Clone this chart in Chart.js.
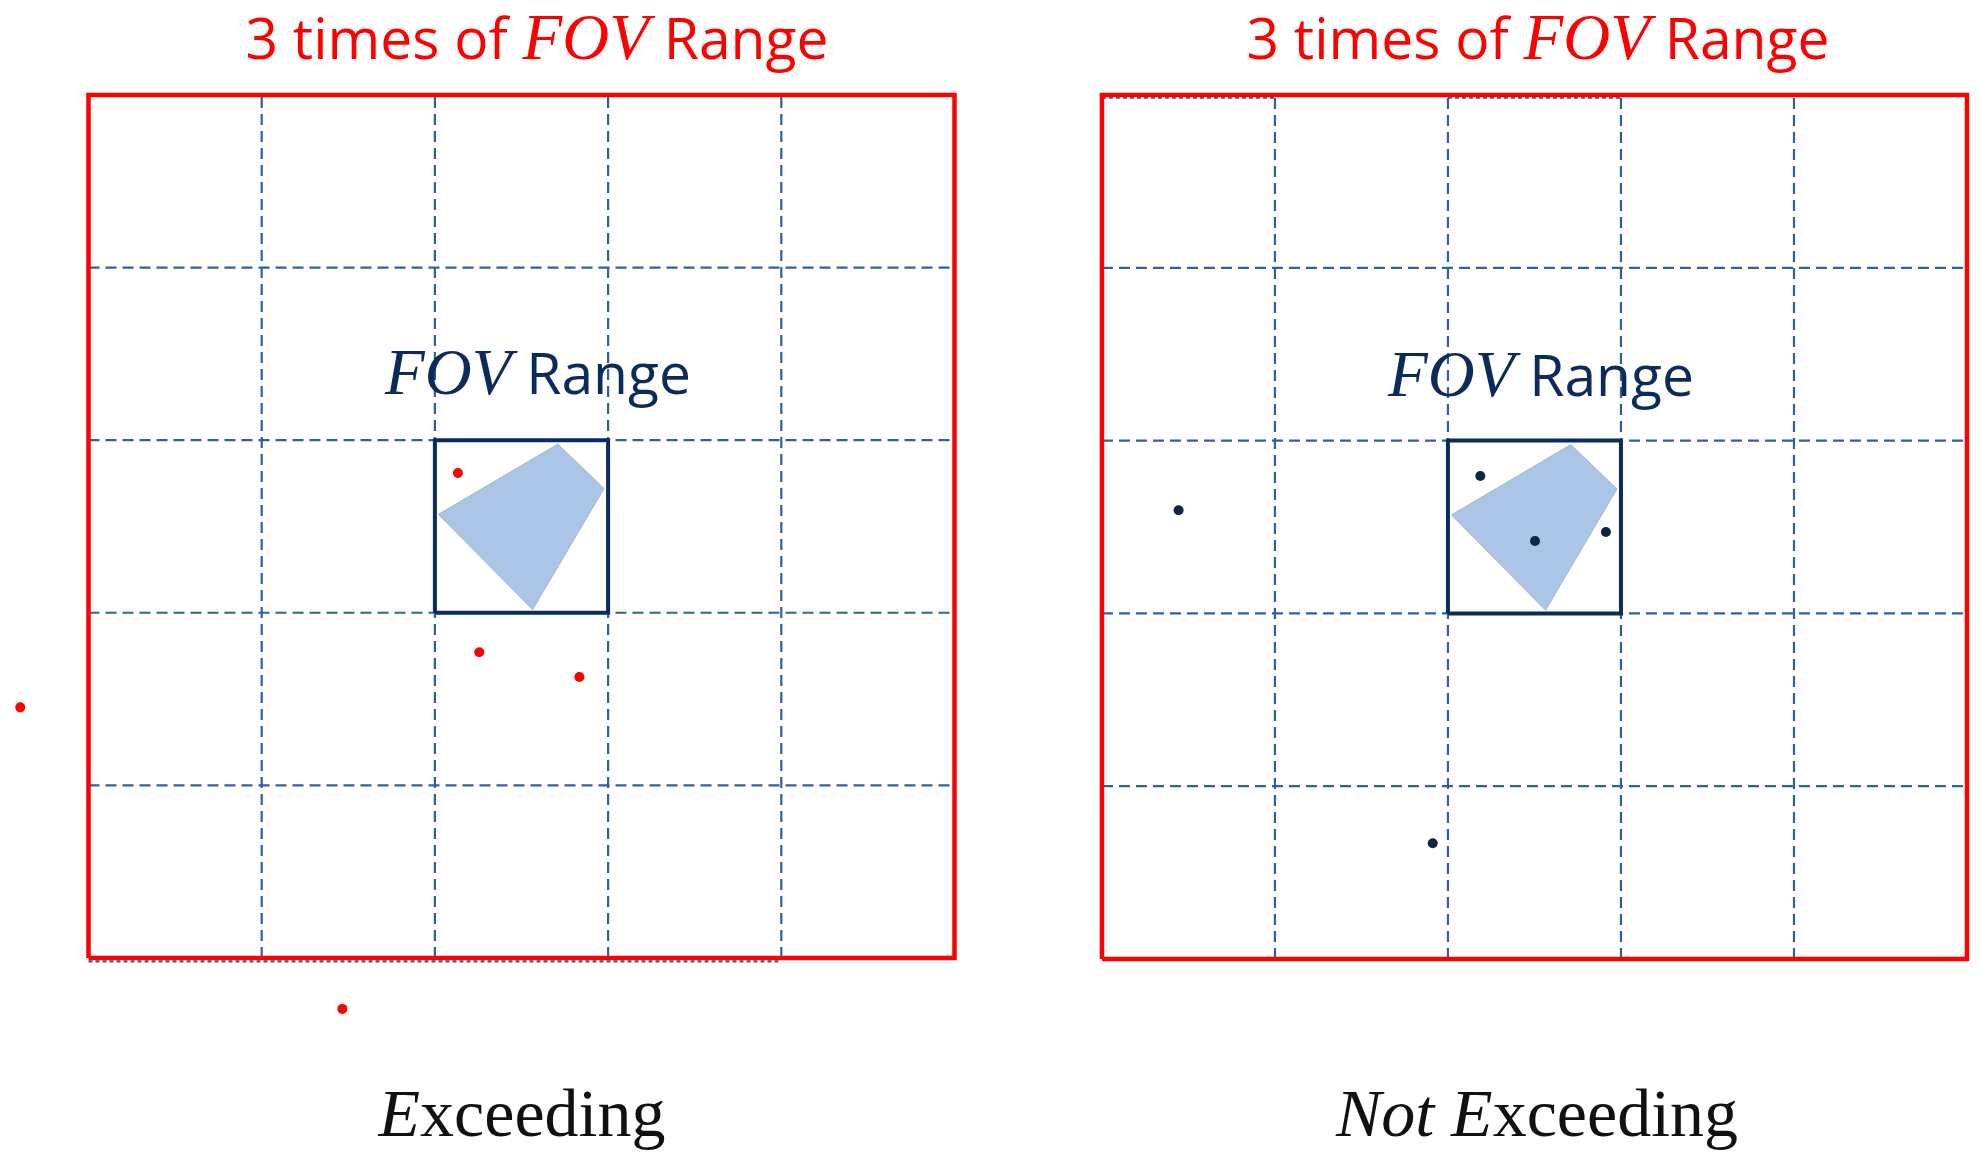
<!DOCTYPE html>
<html>
<head>
<meta charset="utf-8">
<title>FOV Range</title>
<script src="https://cdn.jsdelivr.net/npm/chart.js@4.4.1/dist/chart.umd.min.js"></script>
<style>
  html, body { margin: 0; padding: 0; background: #ffffff; overflow: hidden; }
  #page { position: relative; width: 1981px; height: 1162px; }
  canvas { position: absolute; top: 0; }
  #chart_exceeding { left: 0; }
  #chart_not_exceeding { left: 990px; }
  .label { position: absolute; width: 800px; text-align: center; white-space: nowrap; line-height: 1; }
  .sans { font-family: "Open Sans", sans-serif; font-size: 57px; }
  .title { color: #ff0000; }
  .fov { color: #0c2a5a; }
  .math { font-family: "Liberation Serif", serif; font-style: italic; font-size: 65px; }
  .caption { font-family: "Liberation Serif", serif; font-size: 68px; color: #111111; }
  .caption i { font-style: italic; }
</style>
</head>
<body>
<div id="page">
  <canvas id="chart_exceeding" width="990" height="1162"></canvas>
  <canvas id="chart_not_exceeding" width="991" height="1162"></canvas>

  <div class="label sans title" style="left:137px; top:5px;">3 times of <i class="math">FOV</i> Range</div>
  <div class="label sans title" style="left:1138px; top:5px;">3 times of <i class="math">FOV</i> Range</div>

  <div class="label sans fov" style="left:138px; top:340px;"><i class="math">FOV</i> Range</div>
  <div class="label sans fov" style="left:1141px; top:342px;"><i class="math">FOV</i> Range</div>

  <div class="label caption" style="left:122px; top:1079px;"><i>E</i>xceeding</div>
  <div class="label caption" style="left:1137px; top:1079px;"><i>Not E</i>xceeding</div>
</div>

<script>
// all values are in FOV units, the FOV cell is centred on 0,0
const outerRange = [-2.5, 2.5];   // 3 times of FOV range (5 x 5 cells)
const fovRange = [-0.5, 0.5];     // FOV cell
const gridPos = [-1.5, -0.5, 0.5, 1.5];

// footprint of the image inside the FOV cell
const footprint = [
    {x: -0.48, y: 0.07},
    {x: 0.21, y: 0.477},
    {x: 0.477, y: 0.22},
    {x: 0.064, y: -0.482}
];

// points of the "Exceeding" case
const exceedingPoints = [
    {x: -0.367, y: 0.31},
    {x: -0.244, y: -0.729},
    {x: 0.334, y: -0.872},
    {x: -2.894, y: -1.048},
    {x: -1.034, y: -2.795}
];

// points of the "Not Exceeding" case
const notExceedingPoints = [
    {x: -0.313, y: 0.295},
    {x: 0.003, y: -0.081},
    {x: 0.413, y: -0.029},
    {x: -2.057, y: 0.097},
    {x: -0.588, y: -1.83}
];

// grid pieces that show just inside the red border
const exceedingEdge = [[{x: -2.5, y: -2.52}, {x: 1.5, y: -2.52}]];
const notExceedingEdge = [
    [{x: -2.5, y: 2.485}, {x: -1.5, y: 2.485}],
    [{x: -0.5, y: 2.485}, {x: 0.5, y: 2.485}]
];

const GRID_COLOR = '#2f60a0';

function make_box(range){
    const a = range[0], b = range[1];
    return [{x: a, y: a}, {x: a, y: b}, {x: b, y: b}, {x: b, y: a}, {x: a, y: a}];
}

function line_dataset(data, color, width, dash){
    return {
        data: data,
        borderColor: color,
        borderWidth: width,
        borderDash: dash || [],
        pointRadius: 0,
        fill: false,
        tension: 0
    };
}

function grid_datasets(edges){
    let sets = [];
    for (let p of gridPos) {
        sets.push(line_dataset([{x: p, y: outerRange[0]}, {x: p, y: outerRange[1]}], GRID_COLOR, 2.2, [11, 6]));
        sets.push(line_dataset([{x: outerRange[0], y: p}, {x: outerRange[1], y: p}], GRID_COLOR, 2.2, [11, 6]));
    }
    for (let e of edges) {
        sets.push(line_dataset(e, GRID_COLOR, 2.2, [4, 3]));
    }
    return sets;
}

function plot_panel(chart_id, points, pointColor, edges, view){
    const ctx = document.getElementById(chart_id).getContext('2d');

    let datasets = [];
    // first dataset is drawn on top
    datasets.push({
        data: points,
        showLine: false,
        pointRadius: 5,
        pointBackgroundColor: pointColor,
        pointBorderWidth: 0
    });
    datasets.push(line_dataset(make_box(fovRange), '#0b2b5c', 4));
    datasets.push(line_dataset(make_box(outerRange), '#ff0000', 4.5));
    datasets = datasets.concat(grid_datasets(edges));
    datasets.push({
        data: footprint.concat([footprint[0]]),
        borderColor: '#a3b8d2',
        borderWidth: 1,
        backgroundColor: 'rgba(171, 197, 230, 1)',
        fill: 'shape',
        pointRadius: 0,
        tension: 0
    });

    const chart = new Chart(ctx, {
        type: 'line',
        data: {datasets: datasets},
        options: {
            responsive: false,
            animation: false,
            layout: {padding: 0, autoPadding: false},
            plugins: {
                legend: {display: false},
                tooltip: {enabled: false}
            },
            scales: {
                x: {type: 'linear', display: false, min: view.xmin, max: view.xmax},
                y: {type: 'linear', display: false, min: view.ymin, max: view.ymax}
            }
        }
    });
    return chart;
}

plot_panel('chart_exceeding', exceedingPoints, '#ff0000', exceedingEdge,
    {xmin: -3.011, xmax: 2.705, ymin: -3.682, ymax: 3.05});
plot_panel('chart_not_exceeding', notExceedingPoints, '#0f2545', notExceedingEdge,
    {xmin: -3.147, xmax: 2.581, ymin: -3.675, ymax: 3.05});
</script>
</body>
</html>
